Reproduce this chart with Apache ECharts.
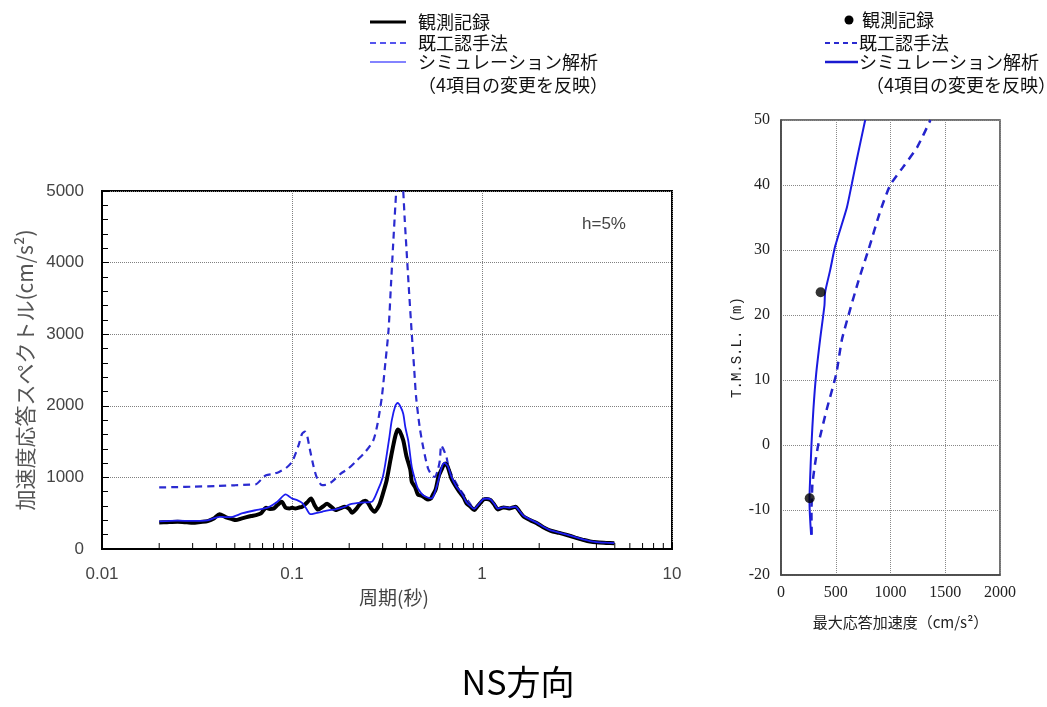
<!DOCTYPE html>
<html>
<head>
<meta charset="utf-8">
<script src="https://cdn.jsdelivr.net/npm/echarts@6/dist/echarts.min.js"></script>
<style>
  html, body { margin: 0; padding: 0; background: #fff; }
  #main { width: 1047px; height: 707px; }
</style>
</head>
<body>
<div id="main"></div>
<script>
// ---- Acceleration response spectrum (h=5%), NS direction ----
// Observed record
const periodObs = [0.02, 0.022, 0.025, 0.028, 0.030, 0.033, 0.036, 0.039, 0.0415, 0.045, 0.048, 0.0507, 0.054, 0.057, 0.061, 0.0646, 0.0686, 0.073, 0.0765, 0.0804, 0.0837, 0.0882, 0.0926, 0.097, 0.1, 0.104, 0.109, 0.113, 0.12, 0.126, 0.131, 0.137, 0.145, 0.153, 0.161, 0.169, 0.178, 0.19, 0.2, 0.207, 0.218, 0.23, 0.243, 0.252, 0.262, 0.272, 0.282, 0.29, 0.3, 0.315, 0.33, 0.34, 0.35, 0.36, 0.37, 0.385, 0.4, 0.42, 0.427, 0.444, 0.46, 0.48, 0.5, 0.52, 0.54, 0.55, 0.57, 0.59, 0.61, 0.64, 0.66, 0.69, 0.73, 0.76, 0.8, 0.83, 0.87, 0.91, 0.95, 1.02, 1.06, 1.11, 1.16, 1.21, 1.26, 1.3, 1.39, 1.45, 1.5, 1.58, 1.66, 1.8, 1.95, 2.1, 2.3, 2.55, 2.8, 3.1, 3.44, 3.7, 4.0, 4.5, 4.97];
const accelObs  = [370, 375, 380, 372, 366, 378, 390, 430, 487, 441, 420, 404, 425, 441, 460, 474, 497, 575, 560, 567, 613, 659, 575, 567, 575, 567, 580, 589, 650, 706, 620, 550, 590, 632, 590, 543, 565, 589, 560, 506, 560, 640, 673, 640, 560, 520, 570, 636, 760, 961, 1250, 1425, 1580, 1670, 1640, 1518, 1300, 1100, 940, 868, 760, 745, 715, 692, 710, 752, 830, 1007, 1100, 1194, 1150, 985, 868, 798, 720, 636, 590, 543, 600, 692, 700, 682, 620, 553, 570, 581, 567, 580, 589, 520, 450, 400, 358, 305, 255, 225, 195, 160, 125, 105, 93, 85, 79];

// Conventional method
const periodConv = [0.02, 0.025, 0.03, 0.04, 0.05, 0.06, 0.0646, 0.07, 0.073, 0.08, 0.0855, 0.093, 0.1, 0.105, 0.109, 0.113, 0.117, 0.12, 0.124, 0.13, 0.135, 0.144, 0.152, 0.162, 0.18, 0.198, 0.22, 0.243, 0.268, 0.282, 0.297, 0.31, 0.322, 0.332, 0.34, 0.35, 0.36, 0.37, 0.38, 0.385, 0.392, 0.4, 0.413, 0.427, 0.44, 0.45, 0.47, 0.49, 0.52, 0.545, 0.564, 0.585, 0.6, 0.61, 0.625, 0.65, 0.66, 0.688, 0.75, 0.84, 0.91, 0.95, 1.02, 1.06, 1.11, 1.16, 1.21, 1.3, 1.39, 1.5, 1.58, 1.66, 1.8, 1.95, 2.1, 2.3, 2.55, 2.8, 3.1, 3.44, 4.0, 4.97];
const accelConv  = [860, 865, 870, 880, 890, 900, 905, 990, 1031, 1050, 1077, 1130, 1216, 1350, 1472, 1611, 1640, 1588, 1400, 1150, 1000, 891, 900, 937, 1050, 1124, 1240, 1355, 1518, 1750, 2121, 2600, 3050, 3700, 4210, 4800, 5300, 5500, 5200, 5000, 4600, 4210, 3600, 3004, 2500, 2121, 1700, 1425, 1124, 1030, 1007, 1100, 1240, 1449, 1400, 1286, 1200, 1050, 868, 682, 567, 610, 700, 705, 690, 630, 565, 585, 575, 590, 525, 460, 410, 365, 310, 260, 230, 200, 165, 130, 97, 82];

// Simulation analysis (reflecting the 4 changed items)
const periodSim = [0.02, 0.025, 0.03, 0.036, 0.0415, 0.045, 0.0487, 0.055, 0.0646, 0.07, 0.076, 0.0837, 0.0926, 0.097, 0.1, 0.107, 0.113, 0.118, 0.125, 0.135, 0.144, 0.155, 0.169, 0.177, 0.19, 0.2, 0.215, 0.24, 0.263, 0.283, 0.3, 0.31, 0.325, 0.335, 0.35, 0.36, 0.372, 0.385, 0.395, 0.41, 0.427, 0.45, 0.46, 0.49, 0.54, 0.56, 0.59, 0.615, 0.635, 0.66, 0.69, 0.73, 0.76, 0.8, 0.83, 0.87, 0.91, 0.95, 1.02, 1.06, 1.11, 1.16, 1.21, 1.26, 1.3, 1.39, 1.45, 1.5, 1.58, 1.66, 1.8, 1.95, 2.1, 2.3, 2.55, 2.8, 3.1, 3.44, 3.7, 4.0, 4.5, 4.97];
const accelSim  = [385, 395, 392, 400, 450, 445, 450, 500, 543, 560, 589, 659, 762, 730, 706, 680, 645, 580, 487, 505, 520, 540, 553, 567, 590, 620, 636, 650, 659, 822, 1000, 1194, 1550, 1797, 2000, 2040, 1990, 1889, 1700, 1500, 1146, 915, 845, 752, 706, 760, 961, 1150, 1202, 1160, 1010, 880, 820, 730, 650, 600, 560, 610, 700, 705, 690, 630, 565, 575, 585, 575, 585, 590, 525, 460, 410, 365, 310, 260, 230, 200, 165, 130, 110, 97, 88, 82];

// Log-axis minor tick positions (2..9 of each decade)
const logMinorTicks = [0.02, 0.03, 0.04, 0.05, 0.06, 0.07, 0.08, 0.09, 0.2, 0.3, 0.4, 0.5, 0.6, 0.7, 0.8, 0.9, 2, 3, 4, 5, 6, 7, 8, 9];

// ---- Maximum response acceleration profile ----
const elevObs = [23.5, -8.2];
const maxAccObs = [362, 262];

const elevConv = [-13.8, -10, -8, -6, -3, 0.2, 5.5, 10.9, 16.2, 20, 25.3, 30.1, 36, 40, 42.9, 45.8, 50];
const maxAccConv = [280, 278, 282, 287, 310, 342, 418, 504, 556, 617, 708, 800, 907, 998, 1121, 1243, 1365];

const elevSim = [-13.8, -12, -10, -8.3, -5.2, 0, 5.5, 10.9, 16.2, 21.5, 23.5, 26.9, 30.6, 36.5, 40.2, 44, 50];
const maxAccSim = [275, 268, 262, 260, 266, 278, 296, 321, 357, 397, 403, 449, 495, 601, 647, 693, 769];

const pairs = (xs, ys) => xs.map((x, i) => [x, ys[i]]);
const plain = v => String(parseFloat(Number(v).toPrecision(6)));

const JP = '"Noto Sans CJK JP"';
const chart = echarts.init(document.getElementById('main'), null, { renderer: 'canvas' });

const blueDash = '#2b2bd0';
const blueSim = '#1c1cf0';

const legendText = (x, y, text) => ({
  type: 'text', x, y,
  style: { text, font: '18px ' + JP, fill: '#111', align: 'left', verticalAlign: 'middle' }
});

chart.setOption({
  animation: false,
  backgroundColor: '#fff',
  grid: [
    { left: 102, top: 191, width: 570, height: 358, show: true, borderColor: '#000', borderWidth: 2, backgroundColor: 'transparent' },
    { left: 781, top: 120, width: 219, height: 455, show: true, borderColor: '#444', borderWidth: 1.5, backgroundColor: 'transparent' }
  ],
  xAxis: [
    {
      gridIndex: 0, type: 'log', logBase: 10, min: 0.01, max: 10,
      axisLine: { show: true, onZero: false, lineStyle: { color: '#000', width: 2 } },
      axisTick: { show: true, inside: true, length: 6, lineStyle: { color: '#000' } },
      axisLabel: {
        fontSize: 17, color: '#444', margin: 17, fontFamily: 'Liberation Sans',
        showMinLabel: true, showMaxLabel: true, formatter: plain
      },
      splitLine: { show: true, lineStyle: { color: '#808080', type: 'dotted', width: 1 } },
      name: '周期(秒)', nameLocation: 'middle', nameGap: 33,
      nameTextStyle: { fontSize: 19, color: '#444', fontFamily: JP, padding: [0, 0, 0, 14] }
    },
    {
      gridIndex: 1, type: 'value', min: 0, max: 2000, interval: 500,
      axisLine: { show: true, onZero: false, lineStyle: { color: '#444', width: 1.5 } },
      axisTick: { show: false },
      axisLabel: { fontSize: 16, color: '#222', margin: 10, fontFamily: 'Liberation Serif', showMaxLabel: true, formatter: plain },
      splitLine: { show: true, lineStyle: { color: '#888', type: 'dotted', width: 1 } },
      name: '最大応答加速度（cm/s²）', nameLocation: 'middle', nameGap: 40,
      nameTextStyle: { fontSize: 15, color: '#222', fontFamily: JP, padding: [0, 0, 0, 20] }
    }
  ],
  yAxis: [
    {
      gridIndex: 0, type: 'value', min: 0, max: 5000, interval: 1000,
      axisLine: { show: true, onZero: false, lineStyle: { color: '#000', width: 2 } },
      axisTick: { show: true, inside: true, length: 7, lineStyle: { color: '#000' } },
      minorTick: { show: true, splitNumber: 5, length: 6, lineStyle: { color: '#000' } },
      axisLabel: { fontSize: 17, color: '#444', margin: 18, fontFamily: 'Liberation Sans', formatter: plain },
      splitLine: { show: true, lineStyle: { color: '#808080', type: 'dotted', width: 1 } },
      name: '加速度応答スペクトル(cm/s²)', nameLocation: 'middle', nameGap: 56,
      nameTextStyle: { fontSize: 21, color: '#555', fontFamily: JP }
    },
    {
      gridIndex: 1, type: 'value', min: -20, max: 50, interval: 10,
      axisLine: { show: true, onZero: false, lineStyle: { color: '#444', width: 1.5 } },
      axisTick: { show: false },
      axisLabel: { fontSize: 16, color: '#222', margin: 11, fontFamily: 'Liberation Serif', formatter: plain },
      splitLine: { show: true, lineStyle: { color: '#888', type: 'dotted', width: 1 } },
      name: 'T.M.S.L. (m)', nameLocation: 'middle', nameGap: 36,
      nameTextStyle: { fontSize: 14, color: '#222', fontFamily: 'Liberation Mono' }
    }
  ],
  series: [
    {
      name: '既工認手法', type: 'line', xAxisIndex: 0, yAxisIndex: 0,
      data: pairs(periodConv, accelConv), symbol: 'none', smooth: 0.25, clip: true, z: 2,
      lineStyle: { color: blueDash, width: 2.2, type: [7, 5] }
    },
    {
      name: '観測記録', type: 'line', xAxisIndex: 0, yAxisIndex: 0,
      data: pairs(periodObs, accelObs), symbol: 'none', smooth: 0.25, z: 3,
      lineStyle: { color: '#000', width: 4 }
    },
    {
      name: 'シミュレーション解析', type: 'line', xAxisIndex: 0, yAxisIndex: 0,
      data: pairs(periodSim, accelSim), symbol: 'none', smooth: 0.25, z: 4,
      lineStyle: { color: blueSim, width: 1.8 }
    },
    {
      // minor ticks for the logarithmic period axis
      type: 'custom', xAxisIndex: 0, yAxisIndex: 0, silent: true, clip: false, z: 5,
      data: logMinorTicks.map(v => [v, 0]),
      renderItem: (params, api) => {
        const p = api.coord([api.value(0), 0]);
        return {
          type: 'line',
          shape: { x1: p[0], y1: p[1], x2: p[0], y2: p[1] - 6 },
          style: { stroke: '#000', lineWidth: 1 }
        };
      }
    },
    {
      name: '既工認手法(最大)', type: 'line', xAxisIndex: 1, yAxisIndex: 1,
      data: pairs(maxAccConv, elevConv), symbol: 'none', smooth: 0.2, z: 2,
      lineStyle: { color: '#2424cc', width: 2.5, type: [8, 6] }
    },
    {
      name: 'シミュレーション解析(最大)', type: 'line', xAxisIndex: 1, yAxisIndex: 1,
      data: pairs(maxAccSim, elevSim), symbol: 'none', smooth: 0.2, z: 3,
      lineStyle: { color: '#1a1ae0', width: 2 }
    },
    {
      name: '観測記録(最大)', type: 'scatter', xAxisIndex: 1, yAxisIndex: 1,
      data: pairs(maxAccObs, elevObs), symbol: 'circle', symbolSize: 10, z: 4,
      itemStyle: { color: '#000' }
    }
  ],
  graphic: [
    // damping note
    { type: 'text', x: 604, y: 224, style: { text: 'h=5%', font: '17px "Liberation Sans"', fill: '#444', align: 'center', verticalAlign: 'middle' } },

    // legend of the spectrum chart
    { type: 'line', shape: { x1: 370, y1: 22, x2: 406, y2: 22 }, style: { stroke: '#000', lineWidth: 3 } },
    legendText(418, 22, '観測記録'),
    { type: 'line', shape: { x1: 370, y1: 43, x2: 406, y2: 43 }, style: { stroke: '#5555ee', lineWidth: 2, lineDash: [6, 4] } },
    legendText(418, 43, '既工認手法'),
    { type: 'line', shape: { x1: 370, y1: 62, x2: 406, y2: 62 }, style: { stroke: '#5a5aff', lineWidth: 1.5 } },
    legendText(418, 62, 'シミュレーション解析'),
    legendText(418, 85, '（4項目の変更を反映）'),

    // legend of the profile chart
    { type: 'circle', shape: { cx: 849, cy: 20, r: 4.5 }, style: { fill: '#000' } },
    legendText(862, 20, '観測記録'),
    { type: 'line', shape: { x1: 825, y1: 43, x2: 858, y2: 43 }, style: { stroke: '#2a2ad0', lineWidth: 2, lineDash: [5, 4] } },
    legendText(859, 43, '既工認手法'),
    { type: 'line', shape: { x1: 825, y1: 62, x2: 858, y2: 62 }, style: { stroke: '#1a1ad0', lineWidth: 2.5 } },
    legendText(859, 62, 'シミュレーション解析'),
    legendText(866, 85, '（4項目の変更を反映）'),

    // direction caption
    { type: 'text', x: 518, y: 682, style: { text: 'NS方向', font: '34px ' + JP, fill: '#000', align: 'center', verticalAlign: 'middle' } }
  ]
});
</script>
</body>
</html>
